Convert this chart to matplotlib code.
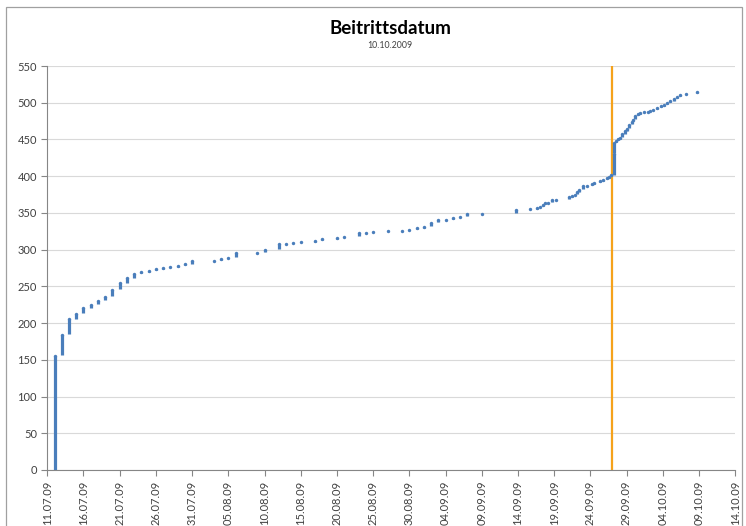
"""
Beitrittsdatum: cumulative member count by join date, Excel-style chart.
"""
import datetime as dt
import matplotlib
matplotlib.use("Agg")
import matplotlib.pyplot as plt
import matplotlib.dates as mdates
import numpy as np
from matplotlib.patches import Rectangle

BLUE, ORANGE, GRID, AXIS, TEXT = "#4A7EBB", "#F5A21B", "#D9D9D9", "#868686", "#404040"

START = dt.datetime(2009, 7, 11)
MARKER_DAY = 78.0          # 27.09.2009, orange reference line

# days after 11.07.2009 and member total reached at that time
join_day = [1, 2, 3, 4, 5, 6, 7, 8, 9, 10, 11, 12, 13, 14, 15, 16, 17, 18, 19,
            20, 23, 24, 25, 26, 29, 30, 32, 33, 34, 35, 37, 38, 40, 41, 43, 44,
            45, 47, 49, 50, 51, 52, 53, 54, 55, 56, 57, 58, 60, 64.8,
            66.7, 67.6, 68.0, 68.4, 68.8, 69.2, 69.7, 70.3, 72.0, 72.5, 72.9,
            73.2, 73.4, 74.0, 74.5, 75.2, 75.5, 76.3, 76.8, 77.3, 77.6, 77.9,
            78.25, 78.3, 78.55, 78.8, 79.1, 79.4, 79.8, 80.1, 80.4, 80.7, 80.9,
            81.2, 81.6, 81.9, 82.4, 82.9, 83.3, 83.7, 84.2, 84.7, 85.2, 85.6,
            86.0, 86.5, 87.0, 87.4, 88.2, 89.7]
total = [155, 184, 205, 213, 220, 225, 230, 236, 245, 254, 261, 267, 269, 271,
         273, 275, 276, 278, 280, 284, 285, 287, 289, 295, 296, 300, 307, 308,
         309, 310, 312, 314, 316, 317, 322, 323, 324, 325, 326, 327, 329, 331,
         336, 340, 341, 343, 345, 348, 349, 354,
         355, 357, 358, 361, 363, 364, 367, 368, 371, 373, 375,
         378, 381, 386, 387, 389, 391, 393, 395, 397, 399, 401,
         430, 445, 448, 450, 452, 457, 461, 464, 470, 474, 477,
         482, 484, 486, 487, 488, 489, 490, 493, 495, 497, 500,
         502, 505, 508, 511, 512, 514]

y_ticks = list(range(0, 551, 50))

plt.rcParams.update({"font.family": ["Lato", "DejaVu Sans"], "font.size": 8})

fig = plt.figure(figsize=(7.46, 5.26), dpi=100)
fig.patches.append(Rectangle((0.008, -0.1), 0.987, 1.087, transform=fig.transFigure,
                             fill=False, ec="#A0A0A0", lw=0.9))
ax = fig.add_axes([0.0634, 0.1065, 0.922, 0.768])

base = mdates.date2num(START)
x = base + np.array(join_day)
hi = np.array(total)
lo = np.concatenate([[0], hi[:-1] + 1])
ax.vlines(x, lo, hi, color=BLUE, lw=2.3, zorder=3)
ax.scatter(x, hi, s=6, color=BLUE, lw=0, zorder=3)
ax.axvline(base + MARKER_DAY, color=ORANGE, lw=1.6, zorder=2)

ax.set_xlim(base, base + 95)
ax.set_ylim(0, 550)
ax.set_yticks(y_ticks)
ax.set_xticks(base + np.arange(0, 96, 5))
ax.xaxis.set_major_formatter(mdates.DateFormatter("%d.%m.%y"))
plt.setp(ax.get_xticklabels(), rotation=90)
ax.grid(axis="y", color=GRID, lw=0.8)
ax.set_axisbelow(True)
for s in ("top", "right"):
    ax.spines[s].set_visible(False)
for s in ("left", "bottom"):
    ax.spines[s].set_color(AXIS)
ax.tick_params(colors=AXIS, labelcolor=TEXT, length=4, width=0.8, labelsize=8)

fig.text(0.523, 0.945, "Beitrittsdatum", ha="center", va="center",
         fontsize=13.5, weight="bold", color="#000000")
fig.text(0.523, 0.913, "10.10.2009", ha="center", va="center",
         fontsize=6.3, color=TEXT)

fig.savefig("out.png", dpi=100)
